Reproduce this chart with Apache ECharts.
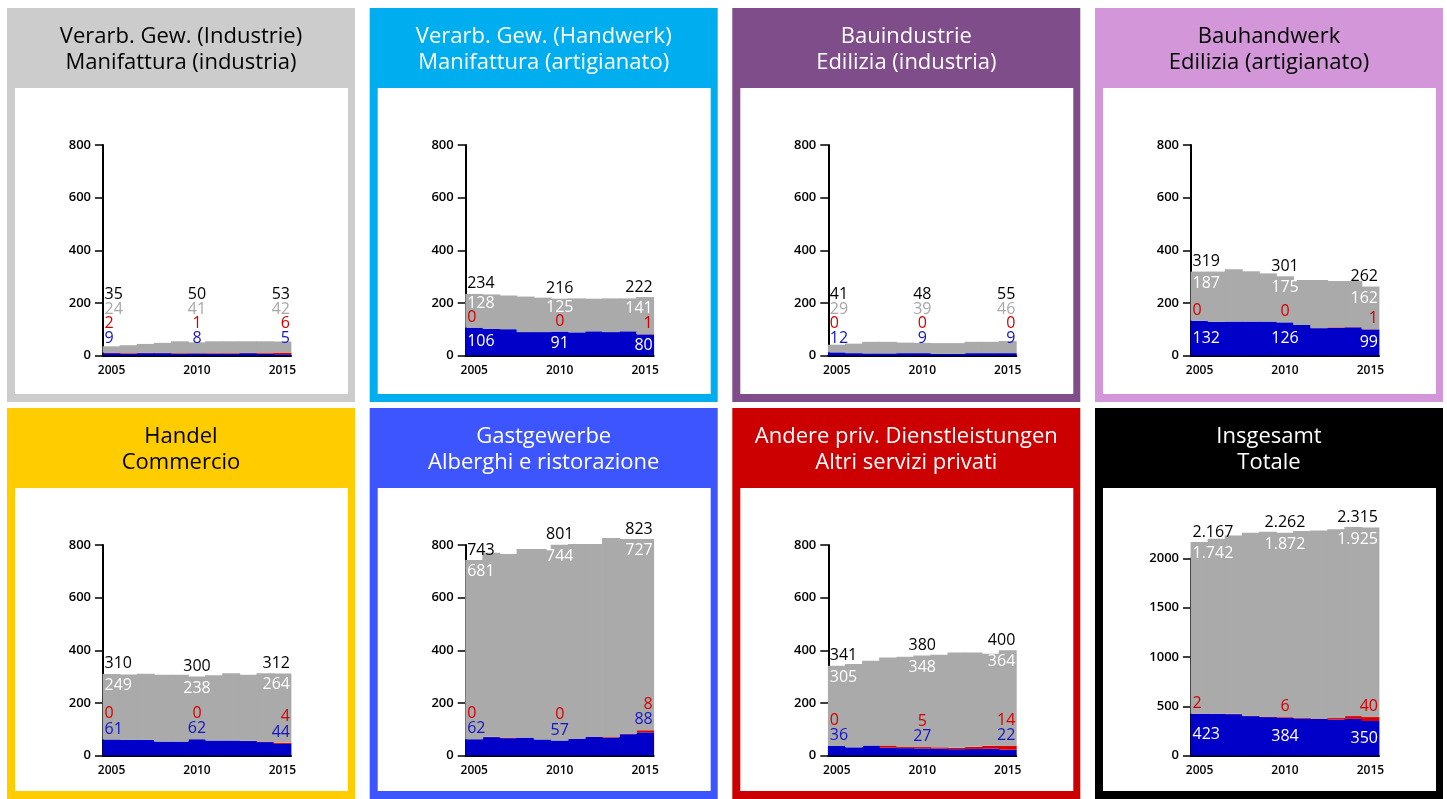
<!DOCTYPE html>
<html><head><meta charset="utf-8">
<script src="https://cdn.jsdelivr.net/npm/echarts@6/dist/echarts.min.js"></script>
<style>html,body{margin:0;padding:0;background:#fff}#c{width:1447px;height:799px}</style>
</head><body><div id="c"></div>
<script>
// ---------- data ----------
const years = ['2005','2006','2007','2008','2009','2010','2011','2012','2013','2014','2015'];
const titles = [
  'Verarb. Gew. (Industrie)\nManifattura (industria)',
  'Verarb. Gew. (Handwerk)\nManifattura (artigianato)',
  'Bauindustrie\nEdilizia (industria)',
  'Bauhandwerk\nEdilizia (artigianato)',
  'Handel\nCommercio',
  'Gastgewerbe\nAlberghi e ristorazione',
  'Andere priv. Dienstleistungen\nAltri servizi privati',
  'Insgesamt\nTotale'
];
const yMax  = [800, 800, 800, 800, 800, 800, 800, 2000];
const yStep = [200, 200, 200, 200, 200, 200, 200, 500];

const industrieBlue = [9, 7, 9, 9, 7, 8, 7, 7, 9, 6, 5];
const industrieRed  = [2, 2, 1, 1, 2, 1, 2, 2, 1, 3, 6];
const industrieGray = [24, 30, 34, 38, 45, 41, 45, 45, 44, 45, 42];

const handwerkBlue = [106, 102, 100, 89, 89, 91, 88, 92, 89, 92, 80];
const handwerkRed  = [0, 0, 0, 0, 0, 0, 0, 0, 0, 0, 1];
const handwerkGray = [128, 130, 128, 135, 131, 125, 129, 124, 128, 125, 141];

const bauIndBlue = [12, 9, 8, 8, 9, 9, 6, 6, 9, 9, 9];
const bauIndRed  = [0, 0, 0, 0, 0, 0, 0, 0, 0, 0, 0];
const bauIndGray = [29, 36, 44, 44, 40, 39, 41, 41, 43, 43, 46];

const bauHandBlue = [132, 128, 129, 129, 129, 126, 116, 104, 105, 107, 99];
const bauHandRed  = [0, 0, 0, 0, 0, 0, 0, 0, 2, 1, 1];
const bauHandGray = [187, 191, 199, 191, 183, 175, 171, 183, 176, 175, 162];

const handelBlue = [61, 60, 60, 53, 53, 62, 57, 57, 55, 51, 44];
const handelRed  = [0, 0, 0, 0, 0, 0, 0, 0, 1, 2, 4];
const handelGray = [249, 248, 251, 254, 254, 238, 248, 256, 251, 260, 264];

const gastBlue = [62, 70, 66, 68, 61, 57, 64, 71, 68, 81, 88];
const gastRed  = [0, 1, 2, 0, 0, 0, 0, 1, 2, 2, 8];
const gastGray = [681, 700, 698, 717, 724, 744, 740, 732, 757, 740, 727];

const dienstBlue = [36, 31, 38, 30, 28, 27, 26, 24, 25, 26, 22];
const dienstRed  = [0, 0, 0, 8, 4, 5, 5, 5, 8, 11, 14];
const dienstGray = [305, 317, 322, 334, 343, 348, 352, 362, 358, 350, 364];

const totalBlue = [423, 422, 420, 400, 390, 384, 377, 372, 365, 372, 350];
const totalRed  = [2, 2, 3, 4, 5, 6, 4, 4, 15, 28, 40];
const totalGray = [1742, 1776, 1811, 1858, 1877, 1872, 1897, 1909, 1918, 1920, 1925];

const labelYears = [0, 5, 10]; // indices of labelled years

// ---------- layout / style ----------
const panels = [
  {blue: industrieBlue, red: industrieRed, gray: industrieGray, bg: '#cccccc', fg: '#000000'},
  {blue: handwerkBlue,  red: handwerkRed,  gray: handwerkGray,  bg: '#00aeef', fg: '#ffffff'},
  {blue: bauIndBlue,    red: bauIndRed,    gray: bauIndGray,    bg: '#7f4d8a', fg: '#ffffff'},
  {blue: bauHandBlue,   red: bauHandRed,   gray: bauHandGray,   bg: '#d397d9', fg: '#000000'},
  {blue: handelBlue,    red: handelRed,    gray: handelGray,    bg: '#ffcc00', fg: '#000000'},
  {blue: gastBlue,      red: gastRed,      gray: gastGray,      bg: '#3d55ff', fg: '#ffffff'},
  {blue: dienstBlue,    red: dienstRed,    gray: dienstGray,    bg: '#cc0000', fg: '#ffffff'},
  {blue: totalBlue,     red: totalRed,     gray: totalGray,     bg: '#000000', fg: '#ffffff'}
];
const FONT = '"Open Sans", "DejaVu Sans", sans-serif';
const colX = [7, 369.7, 732.3, 1095];
const rowY = [8, 408];
const rowH = [394, 391];
const PW = 348;
const GW = 188;
const C_BLUE = '#0000c8', C_RED = '#dd0000', C_GRAY = '#aaaaaa';

function fmt(v) { return String(v).replace(/\B(?=(\d{3})+(?!\d))/g, '.'); }

const grids = [], xAxes = [], yAxes = [], series = [], graphics = [];
panels.forEach((p, k) => {
  const c = k % 4, r = Math.floor(k / 4);
  const px = colX[c], py = rowY[r], ph = rowH[r];
  graphics.push({type: 'rect', z: -20, shape: {x: px, y: py, width: PW, height: ph}, style: {fill: p.bg}});
  graphics.push({type: 'rect', z: -19, shape: {x: px + 8, y: py + 80, width: PW - 15, height: ph - 88}, style: {fill: '#ffffff'}});
  graphics.push({type: 'text', z: -18, x: px + PW / 2, y: py + 15,
    style: {text: titles[k], fill: p.fg, font: '22px ' + FONT, lineHeight: 26.5, textAlign: 'center', textVerticalAlign: 'top'}});

  const baseY = py + 347.5;
  const h = yMax[k] === 2000 ? 197 : 210.5;
  grids.push({left: px + 96, top: baseY - h, width: GW, height: h, containLabel: false});
  xAxes.push({type: 'category', gridIndex: k, data: years, boundaryGap: true,
    axisLine: {lineStyle: {color: '#000', width: 2}}, axisTick: {show: false},
    axisLabel: {interval: 4, color: '#000', fontFamily: FONT, fontSize: 12, fontWeight: 600, margin: 9}});
  yAxes.push({type: 'value', gridIndex: k, min: 0, max: yMax[k], interval: yStep[k],
    axisLine: {show: true, lineStyle: {color: '#000', width: 2}},
    axisTick: {show: true, length: 8, lineStyle: {color: '#000', width: 1.5}},
    splitLine: {show: false},
    axisLabel: {color: '#000', fontFamily: FONT, fontSize: 13, fontWeight: 600, margin: 12, formatter: v => String(v)}});
  const common = {type: 'bar', xAxisIndex: k, yAxisIndex: k, stack: 's' + k, barWidth: GW / years.length + 0.8,
    clip: false, silent: true, animation: false};
  series.push(Object.assign({}, common, {data: p.blue, itemStyle: {color: C_BLUE}}));
  series.push(Object.assign({}, common, {data: p.red, itemStyle: {color: C_RED}}));
  series.push(Object.assign({}, common, {data: p.gray, itemStyle: {color: C_GRAY}}));
  const last = years.length - 1;
  series.push({type: 'custom', xAxisIndex: k, yAxisIndex: k, clip: false, silent: true, animation: false, z: 10,
    data: labelYears.map(i => [i, 0]), encode: {x: 0, y: 1},
    renderItem: (params, api) => {
      const i = api.value(0);
      const b = p.blue[i], rd = p.red[i], g = p.gray[i], t = b + rd + g;
      const base = api.coord([i, 0]);
      const y0 = base[1], cx = base[0];
      const bw = api.size([1, 0])[0];
      const hb = y0 - api.coord([i, b])[1];
      const hr = y0 - api.coord([i, b + rd])[1];
      const ht = y0 - api.coord([i, t])[1];
      const blueIn = hb >= 30 || (hb >= 20 && hr - hb < 2);
      const blueY = blueIn ? hb / 2 : Math.max(hr + 10.5, 17);
      const redY = Math.max(hr + 10.5, blueY + 15.5);
      const grayY = Math.max(ht - 11.5, redY + 13.5);
      const grayIn = grayY + 6 <= ht;
      const totY = Math.max(ht + 10, grayY + 15);
      let x, align;
      if (i === 0) { x = cx - bw / 2 + 1.5; align = 'left'; }
      else if (i === last) { x = cx + bw / 2 - 1; align = 'right'; }
      else { x = cx; align = 'center'; }
      const mk = (val, yy, col) => ({type: 'text', x: x, y: y0 - yy,
        style: {text: fmt(val), fill: col, font: '16px ' + FONT, textAlign: align, textVerticalAlign: 'middle'}});
      return {type: 'group', children: [
        mk(b, blueY, blueIn ? '#ffffff' : '#1414c8'),
        mk(rd, redY, '#d40000'),
        mk(g, grayY, grayIn ? '#ffffff' : '#a8a8a8'),
        mk(t, totY, '#000000')
      ]};
    }});
});

const chart = echarts.init(document.getElementById('c'), null, {renderer: 'canvas'});
chart.setOption({
  backgroundColor: '#ffffff',
  animation: false,
  graphic: {elements: graphics},
  grid: grids, xAxis: xAxes, yAxis: yAxes, series: series
});
</script></body></html>
